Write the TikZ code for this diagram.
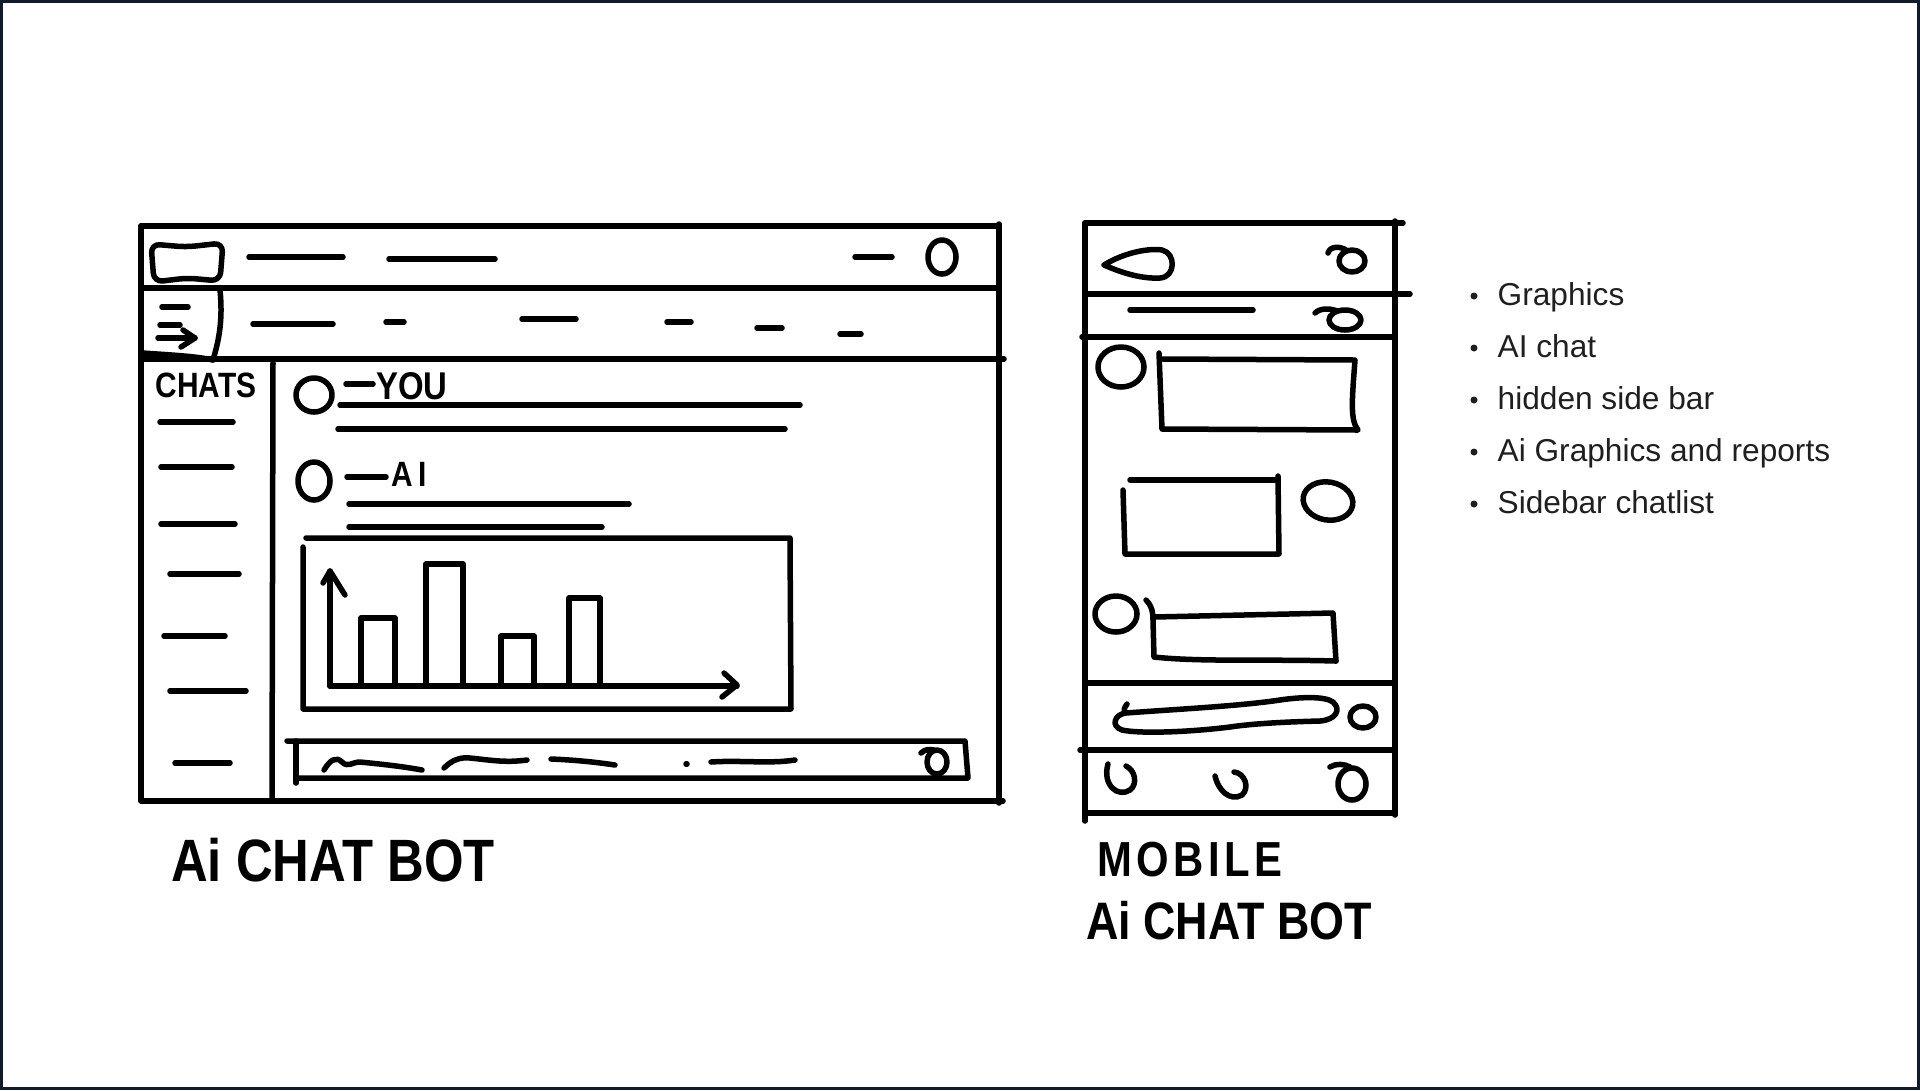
\documentclass[tikz,border=0pt]{standalone}
\usepackage{fontspec}
\setmainfont{Liberation Sans}
\newfontfamily\handfont[FakeStretch=0.85]{Liberation Sans}
\usetikzlibrary{positioning,calc}
\definecolor{framecol}{HTML}{101A2B}
\definecolor{listcol}{HTML}{1F1F1F}
\tikzset{
	pen/.style={draw=black, line width=0.055cm, line cap=round, line join=round},
	handtext/.style={font=\handfont\bfseries, inner sep=0pt, align=center},
	listitem/.style={font=\fontsize{9pt}{11pt}\selectfont, text=listcol, inner sep=0pt, anchor=base west}
}

\begin{document}
\begin{tikzpicture}[x=0.01cm, y=-0.01cm]
			\useasboundingbox (0,0) rectangle (1920,1090);
			\draw[line width=0.03cm, draw=framecol] (1.5,1.5) rectangle (1918.5,1088.5);
			% desktop window
			\draw[pen] (141,226) -- (999,226);
			\draw[pen] (141,226) -- (141,801) -- (1003,801);
			\draw[pen] (999,224) -- (999,803);
			\draw[pen] (141,288) -- (999,288);
			\draw[pen] (141,359) -- (1004,359);
			\draw[pen] (273,363) -- (272,801);
			\draw[pen, rounded corners=2.5] (151,244) -- (186,247) -- (223,243) -- (220,281) -- (187,278) -- (154,282) -- cycle;
			\draw[pen] (249,257) -- (343,257);
			\draw[pen] (389,259) -- (495,259);
			\draw[pen] (855,257) -- (892,257);
			\draw[pen] (942,257) ellipse [x radius=0.14cm, y radius=0.17cm];
			\draw[pen] (220,290) .. controls (223,320) and (219,340) .. (213,360);
			\draw[pen] (143,353) .. controls (170,355) and (195,356) .. (213,360);
			\draw[pen] (162,307) -- (188,307);
			\draw[pen] (160,325) -- (180,325);
			\draw[pen] (158,338) -- (195,338);
			\draw[pen] (183,330) -- (195,338) -- (181,347);
			\foreach \xa/\xb/\yy in {253/333/324, 386/404/322, 522/576/319, 667/691/322, 757/782/328, 840/861/334}
				\draw[pen] (\xa,\yy) -- (\xb,\yy);
			% sidebar
			\node[handtext, font=\handfont\bfseries\fontsize{10pt}{12pt}\selectfont] (chats) at (206,385) {CHATS};
			\foreach \xa/\xb/\yy in {160/233/422, 161/232/467, 161/235/524, 170/239/574, 164/225/636, 170/246/691, 175/230/763}
				\draw[pen] (\xa,\yy) -- (\xb,\yy);
			% messages
			\draw[pen] (314,395) ellipse [x radius=0.18cm, y radius=0.17cm];
			\draw[pen] (346,384) -- (373,384);
			\node[handtext, font=\handfont\bfseries\fontsize{11pt}{13pt}\selectfont] (you) at (412,386) {YOU};
			\draw[pen] (340,405) -- (800,405);
			\draw[pen] (338,429) -- (785,429);
			\draw[pen] (314,481) ellipse [x radius=0.16cm, y radius=0.19cm];
			\draw[pen] (347,477) -- (386,477);
			\node[handtext, font=\handfont\bfseries\fontsize{10pt}{12pt}\selectfont] (ai) at (409,474) {A\,I};
			\draw[pen] (349,504) -- (629,504);
			\draw[pen] (349,527) -- (602,527);
			% chart
			\draw[pen] (303,547) -- (303,709) -- (791,709) -- (790,538) -- (306,538);
			\draw[pen] (330,686) -- (330,571);
			\draw[pen] (323,583) -- (330,571) -- (345,595);
			\draw[pen] (330,686) -- (737,686);
			\draw[pen] (724,673) -- (737,685) -- (722,697);
			\foreach \xl/\xr/\yt in {361/395/618, 426/463/564, 501/534/636, 569/600/598}
				\draw[pen] (\xl,686) |- (\xr,\yt) -- (\xr,686);
			% input bar
			\draw[pen] (287,741) -- (965,741) -- (968,778) -- (296,778);
			\draw[pen] (296,741) -- (296,783);
			\draw[pen] (324,770) .. controls (330,760) and (336,756) .. (342,762) .. controls (348,768) and (352,762) .. (360,762) .. controls (380,764) and (400,766) .. (422,770);
			\draw[pen] (444,768) .. controls (452,760) and (460,757) .. (470,758) .. controls (490,760) and (505,763) .. (527,760);
			\draw[pen] (551,759) .. controls (575,760) and (595,762) .. (615,765);
			\draw[pen] (686,764) -- (687,764);
			\draw[pen] (711,762) .. controls (740,760) and (770,764) .. (795,760);
			\draw[pen] (937,762) ellipse [x radius=0.10cm, y radius=0.12cm];
			\draw[pen] (921,753) .. controls (925,749) and (930,749) .. (934,750);
			\node[handtext, font=\handfont\bfseries\fontsize{17pt}{20pt}\selectfont] (desklabel) at (333,860) {Ai CHAT BOT};
			% mobile
			\draw[pen] (1085,223) -- (1403,223);
			\draw[pen] (1085,223) -- (1085,821);
			\draw[pen] (1395,221) -- (1395,815);
			\draw[pen] (1085,294) -- (1410,294);
			\draw[pen] (1082,337) -- (1395,337);
			\draw[pen] (1085,683) -- (1395,683);
			\draw[pen] (1080,750) -- (1395,750);
			\draw[pen] (1085,813) -- (1395,813);
			\draw[pen] (1104,265) .. controls (1125,252) and (1150,248) .. (1162,250) .. controls (1176,253) and (1176,277) .. (1160,278) .. controls (1140,279) and (1120,272) .. (1104,265);
			\draw[pen] (1328,253) .. controls (1330,246) and (1340,246) .. (1346,250);
			\draw[pen] (1352,261) ellipse [x radius=0.13cm, y radius=0.11cm];
			\draw[pen] (1130,310) -- (1253,310);
			\draw[pen] (1315,313) .. controls (1320,308) and (1330,308) .. (1337,311);
			\draw[pen] (1345,320) ellipse [x radius=0.16cm, y radius=0.10cm];
			\draw[pen] (1121,367) ellipse [x radius=0.23cm, y radius=0.20cm];
			\draw[pen] (1159,353) -- (1162,429) -- (1358,430) .. controls (1350,420) and (1352,400) .. (1355,360) -- (1163,359);
			\draw[pen] (1130,480) -- (1278,480);
			\draw[pen] (1278,476) -- (1279,554) -- (1125,554) -- (1123,490);
			\draw[pen, rotate around={-10:(1328,501)}] (1328,501) ellipse [x radius=0.25cm, y radius=0.19cm];
			\draw[pen] (1116,614) ellipse [x radius=0.21cm, y radius=0.18cm];
			\draw[pen] (1146,600) .. controls (1152,606) and (1153,612) .. (1153,620) -- (1154,657) .. controls (1200,662) and (1260,659) .. (1336,661);
			\draw[pen] (1154,617) -- (1333,613) -- (1336,661);
			\draw[pen] (1127,704) .. controls (1124,708) and (1123,711) .. (1126,713) .. controls (1180,709) and (1240,706) .. (1280,700) .. controls (1300,697) and (1325,696) .. (1333,702) .. controls (1342,710) and (1335,720) .. (1320,721) .. controls (1280,722) and (1250,724) .. (1230,727) .. controls (1190,732) and (1140,734) .. (1122,730) .. controls (1110,726) and (1115,714) .. (1126,713);
			\draw[pen] (1363,717) ellipse [x radius=0.13cm, y radius=0.11cm];
			\draw[pen] (1108,764) .. controls (1102,785) and (1118,798) .. (1130,790) .. controls (1138,784) and (1135,770) .. (1126,766);
			\draw[pen] (1215,776) .. controls (1218,790) and (1230,802) .. (1242,795) .. controls (1250,788) and (1245,773) .. (1234,772);
			\draw[pen] (1330,767) .. controls (1336,763) and (1345,764) .. (1350,767);
			\draw[pen] (1352,784) ellipse [x radius=0.14cm, y radius=0.16cm];
			\node[handtext, font=\handfont\bfseries\fontsize{14pt}{17pt}\selectfont\addfontfeature{LetterSpace=9}] (moblabel) at (1190,860) {MOBILE};
			\node[handtext, font=\handfont\bfseries\fontsize{15pt}{18pt}\selectfont] (mobname) at (1229,921) {Ai CHAT BOT};
			% notes
			\foreach \txt [count=\i] in {Graphics, AI chat, hidden side bar, Ai Graphics and reports, Sidebar chatlist} {
				\fill[listcol] (1474,{296+52*(\i-1)}) circle (0.035cm);
				\node[listitem] (item\i) at (1497,{305+52*(\i-1)}) {\txt};
			}
		\end{tikzpicture}
\end{document}
